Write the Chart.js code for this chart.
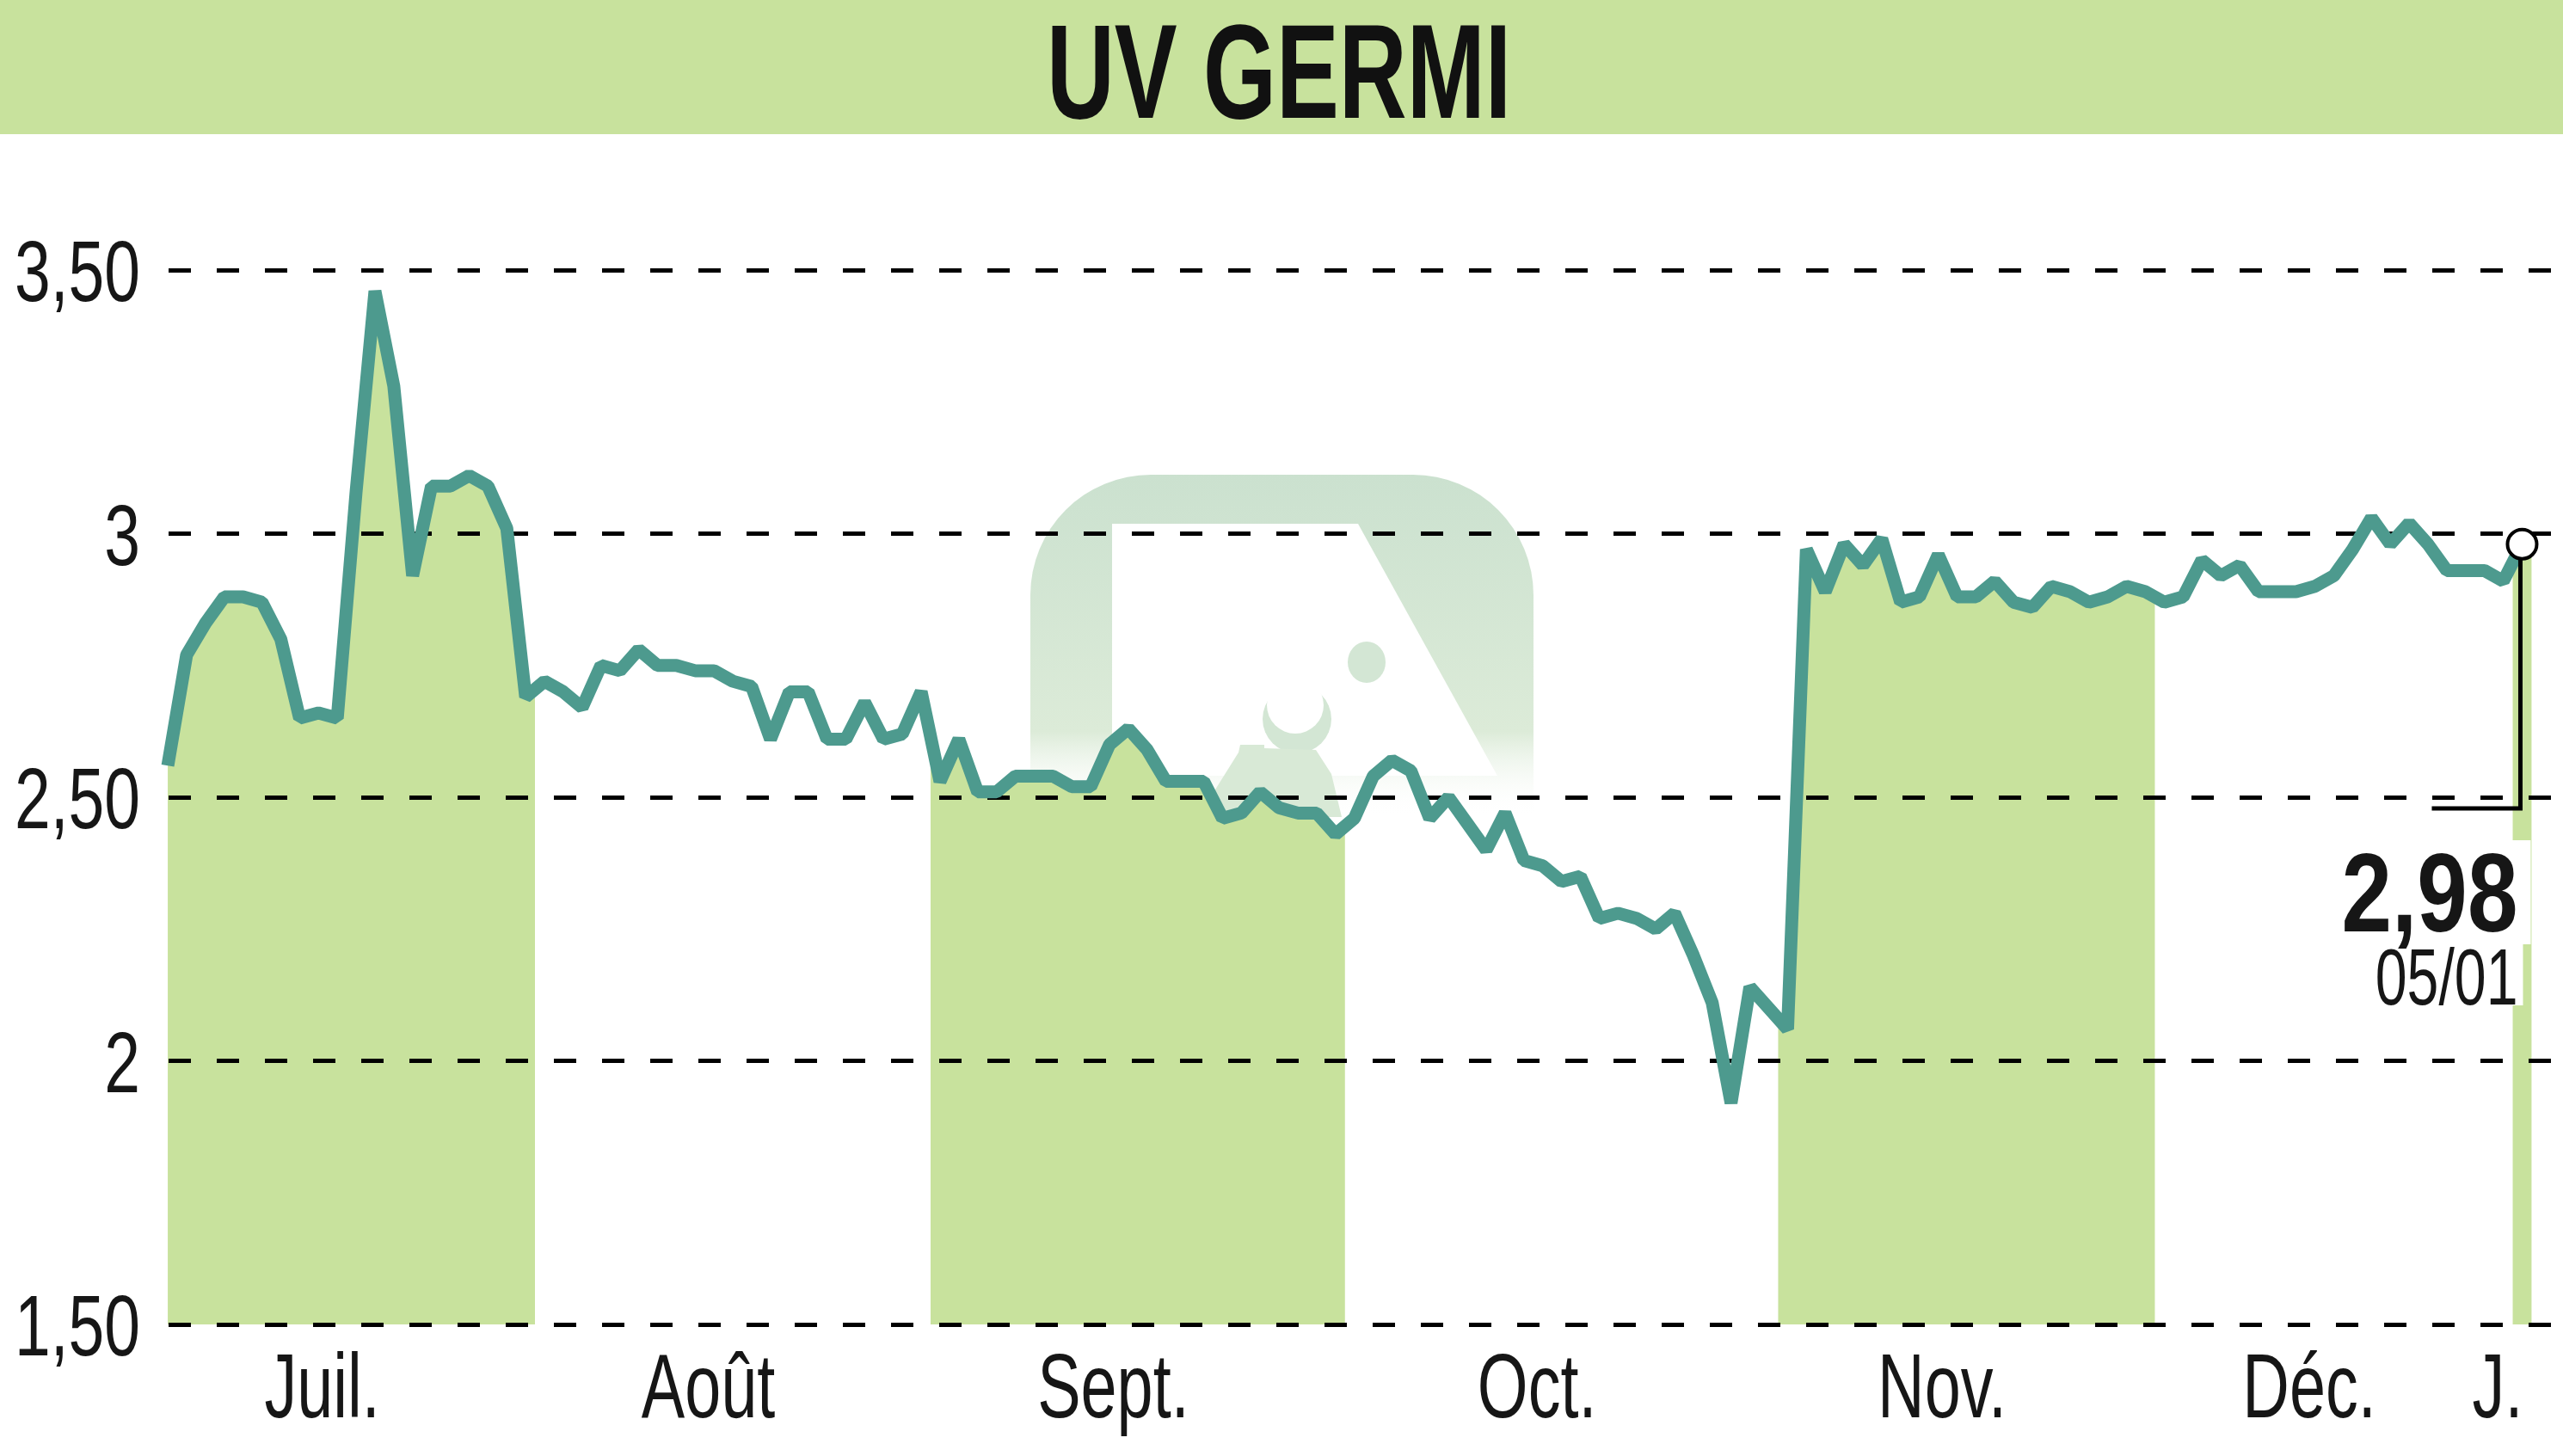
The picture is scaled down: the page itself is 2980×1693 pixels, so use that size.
<!DOCTYPE html>
<html lang="fr">
<head>
<meta charset="utf-8">
<title>UV GERMI</title>
<script src="https://cdn.jsdelivr.net/npm/chart.js@4.4.0/dist/chart.umd.min.js"></script>
<style>
  html, body { margin: 0; padding: 0; background: #fff; }
  canvas { display: block; }
</style>
</head>
<body>
<canvas id="graphique" width="2980" height="1693"></canvas>
<script>
// Cours de clôture, une valeur par séance (juillet -> 05/01)
const cours = [
  2.56, 2.77, 2.83, 2.88, 2.88, 2.87, 2.80, 2.65, 2.66, 2.65,
  3.08, 3.46, 3.28, 2.92, 3.09, 3.09, 3.11, 3.09, 3.01, 2.69,
  2.72, 2.70, 2.67, 2.75, 2.74, 2.78, 2.75, 2.75, 2.74, 2.74,
  2.72, 2.71, 2.61, 2.70, 2.70, 2.61, 2.61, 2.68, 2.61, 2.62,
  2.70, 2.53, 2.61, 2.51, 2.51, 2.54, 2.54, 2.54, 2.52, 2.52,
  2.60, 2.63, 2.59, 2.53, 2.53, 2.53, 2.46, 2.47, 2.51, 2.48,
  2.47, 2.47, 2.43, 2.46, 2.54, 2.57, 2.55, 2.46, 2.50, 2.45,
  2.40, 2.47, 2.38, 2.37, 2.34, 2.35, 2.27, 2.28, 2.27, 2.25,
  2.28, 2.20, 2.11, 1.92, 2.14, 2.10, 2.06, 2.97, 2.89, 2.98,
  2.94, 2.99, 2.87, 2.88, 2.96, 2.88, 2.88, 2.91, 2.87, 2.86,
  2.90, 2.89, 2.87, 2.88, 2.90, 2.89, 2.87, 2.88, 2.95, 2.92,
  2.94, 2.89, 2.89, 2.89, 2.90, 2.92, 2.97, 3.03, 2.98, 3.02,
  2.98, 2.93, 2.93, 2.93, 2.91, 2.98
];

// Première séance de chaque mois
const debutsMois = [0, 20, 41, 63, 86, 106, 125];
const nomsMois = ["Juil.", "Août", "Sept.", "Oct.", "Nov.", "Déc.", "J."];
// Mois dont l'aire sous la courbe est coloriée
const moisColores = [0, 2, 4, 6];
const ticksY = [1.5, 2, 2.5, 3, 3.5];

const titre = "UV GERMI";
const dernierCours = "2,98";
const derniereDate = "05/01";

const VERT = "#c8e29d";
const LIGNE = "#4d9a8e";
const TEXTE = "#161616";
const POLICE = "'Liberation Sans', Arial, sans-serif";

// fin de mois (exclue)
function finMois(m) {
  return m + 1 < debutsMois.length ? debutsMois[m + 1] : cours.length;
}

// position des libellés de mois
const positionsMois = debutsMois.map((d, m) => (d + finMois(m) - 1) / 2 - 1.3);

function formatY(v) {
  return Number.isInteger(v) ? String(v) : v.toFixed(2).replace(".", ",");
}

// texte étroit (police condensée simulée)
function texteEtroit(ctx, txt, x, y, police, echelle, align) {
  ctx.save();
  ctx.font = police;
  ctx.textAlign = align;
  ctx.textBaseline = "alphabetic";
  ctx.translate(x, y);
  ctx.scale(echelle, 1);
  ctx.fillText(txt, 0, 0);
  ctx.restore();
}

function filigrane(ctx) {
  ctx.save();
  const g = ctx.createLinearGradient(0, 552, 0, 950);
  g.addColorStop(0, "#cbe1cf");
  g.addColorStop(0.75, "#dcebd8");
  g.addColorStop(1, "rgba(255,255,255,0)");
  ctx.fillStyle = g;
  ctx.beginPath();
  ctx.moveTo(1198, 950);
  ctx.lineTo(1198, 692);
  ctx.arcTo(1198, 552, 1338, 552, 140);
  ctx.lineTo(1643, 552);
  ctx.arcTo(1783, 552, 1783, 692, 140);
  ctx.lineTo(1783, 950);
  ctx.closePath();
  ctx.fill();

  ctx.fillStyle = "#fff";
  ctx.beginPath();
  ctx.moveTo(1293, 609);
  ctx.lineTo(1579, 609);
  ctx.lineTo(1741, 902);
  ctx.lineTo(1293, 902);
  ctx.closePath();
  ctx.fill();

  ctx.fillStyle = "#d3e6d4";
  ctx.beginPath();
  ctx.ellipse(1589, 770, 22, 24, 0, 0, Math.PI * 2);
  ctx.fill();
  ctx.beginPath();
  ctx.arc(1508, 836, 40, 0, Math.PI * 2);
  ctx.fill();
  ctx.fillStyle = "#fff";
  ctx.beginPath();
  ctx.arc(1506, 820, 33, 0, Math.PI * 2);
  ctx.fill();
  ctx.fillStyle = "#d8e9d6";
  ctx.beginPath();
  ctx.moveTo(1440, 875);
  ctx.lineTo(1442, 866);
  ctx.lineTo(1470, 866);
  ctx.lineTo(1470, 870);
  ctx.lineTo(1530, 872);
  ctx.lineTo(1548, 900);
  ctx.lineTo(1560, 950);
  ctx.lineTo(1393, 950);
  ctx.closePath();
  ctx.fill();
  ctx.restore();
}

const decor = {
  id: "decor",
  beforeDraw(chart) {
    const ctx = chart.ctx;
    const { top, bottom } = chart.chartArea;
    const x = chart.scales.x;
    const pts = chart.getDatasetMeta(0).data;

    ctx.save();
    ctx.fillStyle = "#fff";
    ctx.fillRect(0, 0, chart.width, chart.height);
    // bandeau du titre
    ctx.fillStyle = VERT;
    ctx.fillRect(0, 0, chart.width, 156);
    ctx.fillStyle = "#111";
    texteEtroit(ctx, titre, 1487, 137, "bold 156px " + POLICE, 0.70, "center");
    ctx.restore();

    filigrane(ctx);

    // aire sous la courbe, un mois sur deux
    moisColores.forEach(m => {
      const x0 = x.getPixelForValue(debutsMois[m] - 0.5);
      const x1 = x.getPixelForValue(finMois(m) - 0.5);
      ctx.save();
      ctx.beginPath();
      ctx.rect(x0, top, x1 - x0, bottom - top);
      ctx.clip();
      ctx.fillStyle = VERT;
      ctx.beginPath();
      ctx.moveTo(pts[0].x, bottom);
      pts.forEach(p => ctx.lineTo(p.x, p.y));
      ctx.lineTo(pts[pts.length - 1].x + 30, pts[pts.length - 1].y);
      ctx.lineTo(pts[pts.length - 1].x + 30, bottom);
      ctx.closePath();
      ctx.fill();
      ctx.restore();
    });
  },
  afterDatasetsDraw(chart) {
    const ctx = chart.ctx;
    const x = chart.scales.x;
    const y = chart.scales.y;
    const pts = chart.getDatasetMeta(0).data;
    const p = pts[pts.length - 1];
    const yBas = y.getPixelForValue(2.5) + 13;

    ctx.save();
    ctx.fillStyle = TEXTE;
    // graduations de l'axe des cours
    y.ticks.forEach(t => {
      texteEtroit(ctx, formatY(t.value), 163, y.getPixelForValue(t.value) + 36, "100px " + POLICE, 0.75, "right");
    });
    // libellés des mois
    x.ticks.forEach((t, i) => {
      texteEtroit(ctx, nomsMois[i], x.getPixelForValue(t.value), 1648, "105px " + POLICE, 0.72, "center");
    });

    // caches blancs derrière les étiquettes
    ctx.fillStyle = "#fff";
    ctx.fillRect(p.x - 240, yBas + 37, 250, 121);
    ctx.fillRect(p.x - 180, yBas + 157, 181, 72);

    ctx.strokeStyle = "#000";
    ctx.lineWidth = 5;
    ctx.lineJoin = "miter";
    ctx.beginPath();
    ctx.moveTo(p.x - 2, p.y + 18);
    ctx.lineTo(p.x - 2, yBas);
    ctx.lineTo(p.x - 105, yBas);
    ctx.stroke();

    ctx.fillStyle = TEXTE;
    texteEtroit(ctx, dernierCours, p.x - 5, yBas + 143, "bold 130px " + POLICE, 0.81, "right");
    texteEtroit(ctx, derniereDate, p.x - 5, yBas + 228, "92px " + POLICE, 0.72, "right");

    // petit cercle au dernier cours
    ctx.fillStyle = "#fff";
    ctx.lineWidth = 4;
    ctx.beginPath();
    ctx.arc(p.x, p.y, 17, 0, Math.PI * 2);
    ctx.fill();
    ctx.stroke();
    ctx.restore();
  }
};

const ctx = document.getElementById("graphique").getContext("2d");
new Chart(ctx, {
  type: "line",
  data: {
    datasets: [{
      data: cours.map((v, i) => ({ x: i, y: v })),
      borderColor: LIGNE,
      borderWidth: 15,
      borderJoinStyle: "bevel",
      pointRadius: 0,
      fill: false,
      tension: 0,
      clip: false
    }]
  },
  options: {
    responsive: false,
    animation: false,
    devicePixelRatio: 1,
    layout: { padding: { top: 314, right: 0, bottom: 0, left: 0 } },
    plugins: {
      legend: { display: false },
      tooltip: { enabled: false },
      title: { display: false }
    },
    scales: {
      x: {
        type: "linear",
        min: -0.46,
        max: 127.17,
        grid: { display: false },
        border: { display: false },
        afterBuildTicks: s => { s.ticks = positionsMois.map(v => ({ value: v })); },
        afterFit: s => { s.height = 153; },
        ticks: { display: false, autoSkip: false }
      },
      y: {
        min: 1.5,
        max: 3.5,
        afterBuildTicks: s => { s.ticks = ticksY.map(v => ({ value: v })); },
        afterFit: s => { s.width = 185; },
        grid: { color: "#000", lineWidth: 5, drawTicks: false },
        border: { display: false, dash: [26, 30], dashOffset: 45 },
        ticks: { display: false }
      }
    }
  },
  plugins: [decor]
});
</script>
</body>
</html>
